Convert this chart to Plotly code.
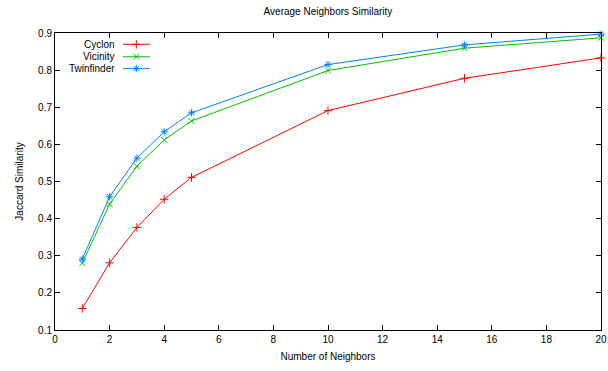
import plotly.graph_objects as go

neighbors = [1, 2, 3, 4, 5, 10, 15, 20]
cyclon = [0.158, 0.281, 0.376, 0.452, 0.511, 0.691, 0.778, 0.833]
vicinity = [0.280, 0.439, 0.541, 0.612, 0.663, 0.799, 0.859, 0.887]
twinfinder = [0.291, 0.459, 0.563, 0.634, 0.685, 0.815, 0.868, 0.897]

series_names = ["Cyclon", "Vicinity", "Twinfinder"]
series_values = [cyclon, vicinity, twinfinder]
colors = ["#ff0000", "#00c000", "#0080ff"]
symbols = ["cross-thin-open", "x-thin-open", "asterisk-open"]

x_ticks = list(range(0, 21, 2))
y_ticks = [round(0.1 * i, 1) for i in range(1, 10)]

FONT = "Liberation Sans, Arial, sans-serif"

fig = go.Figure()
for name, vals, c, s in zip(series_names, series_values, colors, symbols):
    fig.add_trace(go.Scatter(
        x=neighbors, y=vals, mode="lines+markers", name=name,
        line=dict(color=c, width=1),
        marker=dict(symbol=s, size=6, color=c, line=dict(color=c, width=1)),
        showlegend=False, cliponaxis=False,
    ))

# custom gnuplot-style legend (text right, sample to the right)
leg_y = [0.962, 0.920, 0.880]
for name, c, s, ly in zip(series_names, colors, symbols, leg_y):
    fig.add_trace(go.Scatter(
        x=[0.1245, 0.174], y=[ly, ly], xaxis="x2", yaxis="y2",
        mode="lines", line=dict(color=c, width=1), showlegend=False, hoverinfo="skip",
    ))
    fig.add_trace(go.Scatter(
        x=[0.149], y=[ly], xaxis="x2", yaxis="y2", mode="markers",
        marker=dict(symbol=s, size=6, color=c, line=dict(color=c, width=1)),
        showlegend=False, hoverinfo="skip",
    ))
    fig.add_annotation(
        x=0.1136, y=ly, xref="x2", yref="y2", text=name, showarrow=False,
        xanchor="right", yanchor="middle", font=dict(family=FONT, size=10, color="black"),
    )

axis_common = dict(
    showline=True, linecolor="black", linewidth=1, mirror="ticks",
    ticks="inside", ticklen=5, tickcolor="black", showgrid=False, zeroline=False,
    tickfont=dict(family=FONT, size=10, color="black"), automargin=False,
)

fig.update_layout(
    width=608, height=371,
    margin=dict(l=55, r=7, t=33, b=41),
    paper_bgcolor="white", plot_bgcolor="white",
    title=dict(text="Average Neighbors Similarity", x=0.5, xref="paper", xanchor="center",
               y=0.978, yref="container", yanchor="top",
               font=dict(family=FONT, size=10, color="black")),
    xaxis=dict(range=[0, 20], tickvals=x_ticks, ticktext=[str(v) for v in x_ticks],
               title=dict(text="Number of Neighbors", standoff=8,
                          font=dict(family=FONT, size=10, color="black")),
               **axis_common),
    yaxis=dict(range=[0.1, 0.9], tickvals=y_ticks, ticktext=[f"{v:.1f}" for v in y_ticks],
               title=dict(text="Jaccard Similarity", standoff=12,
                          font=dict(family=FONT, size=10, color="black")),
               **axis_common),
    xaxis2=dict(range=[0, 1], overlaying="x", visible=False, domain=[0, 1]),
    yaxis2=dict(range=[0, 1], overlaying="y", visible=False, domain=[0, 1]),
    showlegend=False,
)

fig.write_html("out.html")
